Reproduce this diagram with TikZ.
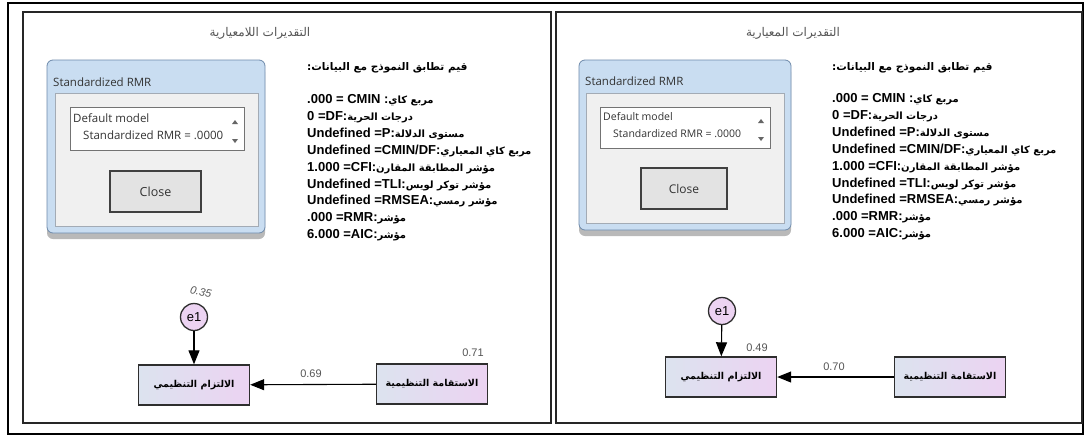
\documentclass[tikz,border=0pt]{standalone}
\usepackage{fontspec}
\setmainfont{Liberation Sans}
\newfontfamily\arabicfont[Script=Arabic]{DejaVu Sans}
\newfontfamily\uifont{Open Sans}
\TeXXeTstate=1
\usetikzlibrary{arrows.meta, positioning, shadows}
\definecolor{semBlue}{HTML}{DCE3EF}
\definecolor{semPink}{HTML}{ECD3F2}
\definecolor{semEdge}{HTML}{2E2E2E}
\definecolor{dlgFrame}{HTML}{C9DDF1}
\definecolor{dlgEdge}{HTML}{6E8AAB}
\definecolor{dlgPanel}{HTML}{F0F0F0}
\definecolor{dlgLine}{HTML}{A3ABB5}
\definecolor{dlgBtn}{HTML}{E3E3E3}
\definecolor{txtGray}{HTML}{555555}
\newcommand{\artxt}[1]{{\arabicfont\fontsize{10}{12}\selectfont\beginR #1\endR}}
\tikzset{
  obsvar/.style={
    draw=semEdge, line width=1.4pt, minimum width=111pt, minimum height=40pt,
    left color=semBlue, right color=semPink,
    font=\arabicfont\bfseries\fontsize{9.5}{12}\selectfont
  },
  errvar/.style={circle, draw=semEdge, line width=1.3pt, minimum size=27pt, inner sep=0pt,
    fill=semPink, font=\fontsize{13}{15}\selectfont},
  regpath/.style={-{Triangle[length=14pt, width=11pt]}, line width=1.1pt, black},
  estlabel/.style={font=\fontsize{11}{13}\selectfont, text=txtGray, inner sep=0pt},
  paneltitle/.style={font=\arabicfont\fontsize{12}{14}\selectfont, text=txtGray},
  fithead/.style={font=\arabicfont\bfseries\fontsize{10.5}{12}\selectfont, anchor=west, inner sep=0pt},
  fitline/.style={font=\bfseries\fontsize{13}{15}\selectfont, inner sep=0pt,
    text height=10pt, text depth=3pt},
  panel/.style={draw=black!85, line width=1.6pt},
  dlgframe/.style={draw=dlgEdge, fill=dlgFrame, rounded corners=6pt, line width=0.8pt,
    drop shadow={opacity=0.55, shadow xshift=0pt, shadow yshift=-6pt}},
  dlgpanel/.style={draw=dlgLine, fill=dlgPanel, line width=0.7pt},
  listbox/.style={draw=black!55, fill=white, line width=0.7pt},
  closebtn/.style={draw=black!75, fill=dlgBtn, line width=1.3pt},
  uitext/.style={font=\uifont\fontsize{11.5}{13}\selectfont, text=black!80, inner sep=0pt}
}
\begin{document}
\begin{tikzpicture}[x=1pt, y=-1pt, node distance=3.5pt]
  \useasboundingbox (0,0) rectangle (1084,437);
  \fill[white] (0,0) rectangle (1084,437);
  % frames
  \draw[line width=2pt] (8,3) rectangle (1083,434);
  \draw[panel] (23,12) rectangle (551,423);
  \draw[panel] (556,12) rectangle (1082,423);

  % ---- left panel: unstandardized
  \node[paneltitle] (titleL) at (260,33) {\beginR التقديرات اللامعيارية\endR};
  \draw[dlgframe] (47,60) rectangle (265,233);
  \node[uitext, anchor=west] (dlgTitleL) at (53,82) {Standardized RMR};
  \draw[dlgpanel] (55,93) rectangle (258,226);
  \draw[listbox] (70,107) rectangle (244,150);
  \node[uitext, anchor=west] (defL) at (73,118) {Default model};
  \node[uitext, anchor=west] (rmrL) at (83,135) {Standardized RMR = .0000};
  \fill[black!60] (232,124) -- (238,124) -- (235,120) -- cycle;
  \fill[black!60] (232,139) -- (238,139) -- (235,143) -- cycle;
  \draw[closebtn] (110,171) rectangle (201,212);
  \node[uitext, font=\uifont\fontsize{12.5}{14}\selectfont] (closeL) at (155.5,191.5) {Close};

  \node[fithead] (headL) at (307,68) {\beginR قيم تطابق النموذج مع البيانات:\endR};
  \node[fitline, anchor=west] (aL) at (307,100) {.000 = CMIN :\artxt{مربع كاي}};
  \node[fitline, below=of aL.south west, anchor=north west] (bL) {0 =DF:\artxt{درجات الحرية}};
  \node[fitline, below=of bL.south west, anchor=north west] (cL) {Undefined =P:\artxt{مستوى الدلالة}};
  \node[fitline, below=of cL.south west, anchor=north west] (dL) {Undefined =CMIN/DF:\artxt{مربع كاي المعياري}};
  \node[fitline, below=of dL.south west, anchor=north west] (eL) {1.000 =CFI:\artxt{مؤشر المطابقة المقارن}};
  \node[fitline, below=of eL.south west, anchor=north west] (fL) {Undefined =TLI:\artxt{مؤشر توكر لويس}};
  \node[fitline, below=of fL.south west, anchor=north west] (gL) {Undefined =RMSEA:\artxt{مؤشر رمسي}};
  \node[fitline, below=of gL.south west, anchor=north west] (hL) {.000 =RMR:\artxt{مؤشر}};
  \node[fitline, below=of hL.south west, anchor=north west] (iL) {6.000 =AIC:\artxt{مؤشر}};

  \node[errvar] (e1L) at (194,317) {e1};
  \node[estlabel, font=\itshape\fontsize{11}{13}\selectfont, rotate=-12] (r2eL) at (201,292) {0.35};
  \node[obsvar] (commitL) at (194,385) {\beginR الالتزام التنظيمي\endR};
  \node[obsvar] (integL) at (432,384) {\beginR الاستقامة التنظيمية\endR};
  \draw[regpath] (e1L) -- (commitL);
  \draw[regpath] (integL) -- (commitL);
  \node[estlabel] (wL) at (311,374) {0.69};
  \node[estlabel] (vL) at (473,353) {0.71};

  % ---- right panel: standardized
  \node[paneltitle] (titleR) at (793,33) {\beginR التقديرات المعيارية\endR};
  \draw[dlgframe] (579,60) rectangle (791,230);
  \node[uitext, anchor=west] (dlgTitleR) at (585,81) {Standardized RMR};
  \draw[dlgpanel] (586,93) rectangle (784,223);
  \draw[listbox] (600,107) rectangle (770,148);
  \node[uitext, anchor=west, font=\uifont\fontsize{10.5}{12}\selectfont] (defR) at (603,117) {Default model};
  \node[uitext, anchor=west, font=\uifont\fontsize{10.5}{12}\selectfont] (rmrR) at (613,134) {Standardized RMR = .0000};
  \fill[black!60] (758,123) -- (764,123) -- (761,119) -- cycle;
  \fill[black!60] (758,137) -- (764,137) -- (761,141) -- cycle;
  \draw[closebtn] (641,168) rectangle (727,209);
  \node[uitext, font=\uifont\fontsize{12}{14}\selectfont] (closeR) at (684,188.5) {Close};

  \node[fithead] (headR) at (832,68) {\beginR قيم تطابق النموذج مع البيانات:\endR};
  \node[fitline, anchor=west] (aR) at (832,99) {.000 = CMIN :\artxt{مربع كاي}};
  \node[fitline, below=of aR.south west, anchor=north west] (bR) {0 =DF:\artxt{درجات الحرية}};
  \node[fitline, below=of bR.south west, anchor=north west] (cR) {Undefined =P:\artxt{مستوى الدلالة}};
  \node[fitline, below=of cR.south west, anchor=north west] (dR) {Undefined =CMIN/DF:\artxt{مربع كاي المعياري}};
  \node[fitline, below=of dR.south west, anchor=north west] (eR) {1.000 =CFI:\artxt{مؤشر المطابقة المقارن}};
  \node[fitline, below=of eR.south west, anchor=north west] (fR) {Undefined =TLI:\artxt{مؤشر توكر لويس}};
  \node[fitline, below=of fR.south west, anchor=north west] (gR) {Undefined =RMSEA:\artxt{مؤشر رمسي}};
  \node[fitline, below=of gR.south west, anchor=north west] (hR) {.000 =RMR:\artxt{مؤشر}};
  \node[fitline, below=of hR.south west, anchor=north west] (iR) {6.000 =AIC:\artxt{مؤشر}};

  \node[errvar] (e1R) at (722,311) {e1};
  \node[obsvar] (commitR) at (721,377) {\beginR الالتزام التنظيمي\endR};
  \node[obsvar] (integR) at (950,377) {\beginR الاستقامة التنظيمية\endR};
  \draw[regpath] (e1R) -- (commitR);
  \draw[regpath] (integR) -- (commitR);
  \node[estlabel] (wR) at (834,367) {0.70};
  \node[estlabel] (vR) at (757,348) {0.49};
\end{tikzpicture}
\end{document}
